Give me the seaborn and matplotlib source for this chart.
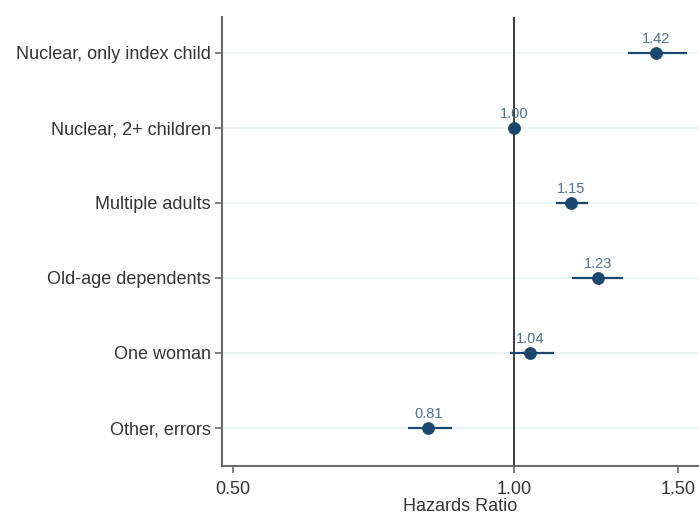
import matplotlib
matplotlib.use("Agg")
import matplotlib.pyplot as plt
import seaborn as sns
import pandas as pd
from matplotlib.ticker import FixedLocator, NullLocator, FixedFormatter

categories = ["Nuclear, only index child", "Nuclear, 2+ children", "Multiple adults",
              "Old-age dependents", "One woman", "Other, errors"]
hr = [1.42, 1.00, 1.15, 1.23, 1.04, 0.81]
ci_low = [1.325, 1.00, 1.108, 1.155, 0.990, 0.770]
ci_high = [1.532, 1.00, 1.201, 1.308, 1.104, 0.859]
labels = ["1.42", "1.00", "1.15", "1.23", "1.04", "0.81"]
xticks = [0.5, 1.0, 1.5]
xticklabels = ["0.50", "1.00", "1.50"]

df = pd.DataFrame({"cat": categories, "hr": hr, "lo": ci_low, "hi": ci_high, "lab": labels})

sns.set_style("white")
plt.rcParams["font.family"] = ["Liberation Sans", "DejaVu Sans"]

navy = "#1a476f"
fig = plt.figure(figsize=(6.99, 5.16), dpi=100)
ax = fig.add_axes([222/699, 50/516, 1 - 222/699, (466-17)/516])

ax.set_xscale("log")
pos = list(range(len(categories)))
for p in pos:
    ax.axhline(p, color="#eaf2f3", lw=1.2, zorder=0)
ax.axvline(1.0, color="#3a3a3a", lw=1.4, zorder=1)
ax.hlines(pos, df["lo"], df["hi"], color=navy, lw=1.6, zorder=2)
sns.scatterplot(data=df, x="hr", y="cat", ax=ax, color=navy, s=75, edgecolor=navy,
                linewidth=0.5, zorder=3, legend=False)
for p, v, t in zip(pos, hr, labels):
    ax.text(v, p - 0.09, t, ha="center", va="bottom", fontsize=10.5, color="#52708f")

ax.set_xlim(0.487, 1.578)
ax.set_ylim(5.507, -0.48)
ax.xaxis.set_major_locator(FixedLocator(xticks))
ax.xaxis.set_major_formatter(FixedFormatter(xticklabels))
ax.xaxis.set_minor_locator(NullLocator())
ax.set_yticks(pos)
ax.set_yticklabels(categories)
ax.tick_params(axis="both", labelsize=13, colors="#6a6a6a", labelcolor="#333333",
               length=5, width=1.2, direction="out", bottom=True, left=True)
ax.tick_params(axis="x", pad=6)
ax.tick_params(axis="y", pad=3)
for s in ["top", "right"]:
    ax.spines[s].set_visible(False)
for s in ["left", "bottom"]:
    ax.spines[s].set_color("#6a6a6a")
    ax.spines[s].set_linewidth(1.5)
ax.set_xlabel("Hazards Ratio", fontsize=13, color="#333333", labelpad=0)
ax.set_ylabel("")

fig.savefig("out.png", dpi=100)
